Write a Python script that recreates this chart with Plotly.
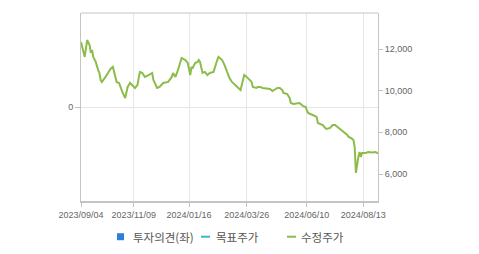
import plotly.graph_objects as go

# Adjusted share price (수정주가), Korean trading days
dates = [
    "2023-09-04", "2023-09-07", "2023-09-11", "2023-09-13", "2023-09-14", "2023-09-15",
    "2023-09-18", "2023-09-20", "2023-09-22", "2023-09-25", "2023-09-26", "2023-09-27", "2023-10-06",
    "2023-10-11", "2023-10-13", "2023-10-17", "2023-10-18", "2023-10-19", "2023-10-20", "2023-10-24",
    "2023-10-26", "2023-10-27", "2023-10-31", "2023-11-01", "2023-11-02", "2023-11-06", "2023-11-08",
    "2023-11-10", "2023-11-14", "2023-11-15", "2023-11-16", "2023-11-20", "2023-11-22", "2023-11-27",
    "2023-11-30", "2023-12-01", "2023-12-06", "2023-12-08", "2023-12-13", "2023-12-19", "2023-12-22",
    "2023-12-26", "2023-12-28", "2024-01-03", "2024-01-05", "2024-01-08", "2024-01-11", "2024-01-15",
    "2024-01-17", "2024-01-18", "2024-01-19", "2024-01-23", "2024-01-25", "2024-01-26", "2024-01-29",
    "2024-01-31", "2024-02-02", "2024-02-06", "2024-02-08", "2024-02-15", "2024-02-20", "2024-02-21",
    "2024-02-26", "2024-02-28", "2024-03-04", "2024-03-06", "2024-03-08", "2024-03-13", "2024-03-15",
    "2024-03-19", "2024-03-21", "2024-03-22", "2024-03-26", "2024-03-29", "2024-04-01", "2024-04-02",
    "2024-04-05", "2024-04-08", "2024-04-11", "2024-04-15", "2024-04-19", "2024-04-23", "2024-04-25",
    "2024-05-02", "2024-05-07", "2024-05-09", "2024-05-10", "2024-05-16", "2024-05-20", "2024-05-21",
    "2024-05-23", "2024-05-28", "2024-05-30", "2024-06-04", "2024-06-07", "2024-06-10", "2024-06-11",
    "2024-06-13", "2024-06-17", "2024-06-20", "2024-06-21", "2024-06-25", "2024-06-27", "2024-07-01",
    "2024-07-02", "2024-07-05", "2024-07-09", "2024-07-11", "2024-07-15", "2024-07-18", "2024-07-22",
    "2024-07-23", "2024-07-25", "2024-07-26", "2024-07-30", "2024-08-01", "2024-08-02", "2024-08-05",
    "2024-08-06", "2024-08-07", "2024-08-08", "2024-08-09", "2024-08-12", "2024-08-13", "2024-08-16",
    "2024-08-20", "2024-08-23", "2024-08-28", "2024-08-30",
]
prices = [
    12340, 11620, 12430, 12190, 11810, 11950,
    11620, 11380, 10990, 10850, 10510, 10420, 10660,
    10850, 11040, 11140, 10900, 10660, 10420, 10370,
    10030, 9890, 9650, 9890, 10180, 10370, 10270,
    10130, 10270, 10660, 10900, 10850, 10660, 10750,
    10850, 10510, 10130, 10180, 10370, 10420, 10660,
    10850, 10660, 10990, 11330, 11570, 11470, 11330,
    10750, 11140, 11090, 11330, 11380, 11470, 11380,
    10850, 10900, 10750, 10850, 10900, 11470, 11620,
    11470, 11230, 10900, 10610, 10420, 10270, 10130,
    10030, 10510, 10750, 10660, 10510, 10420, 10180,
    10130, 10180, 10180, 10130, 10080, 10080, 9980,
    10130, 10130, 10030, 9890, 9840, 9650, 9410,
    9360, 9410, 9410, 9260, 9220, 9070, 8930,
    8880, 8830, 8740, 8450, 8380, 8350, 8210,
    8160, 8210, 8350, 8350, 8260, 8110, 8020,
    7970, 7870, 7780, 7730, 7630, 7300, 6050,
    6530, 6820, 7060, 6820, 7010, 7000, 7010,
    7050, 7030, 7050, 6990,
]

# KRX holidays in the period (non-trading days)
holidays = [
    "2023-09-28", "2023-09-29", "2023-10-02", "2023-10-03", "2023-10-09", "2023-12-25",
    "2023-12-29", "2024-01-01", "2024-02-09", "2024-02-12", "2024-03-01", "2024-04-10",
    "2024-05-01", "2024-05-06", "2024-05-15", "2024-06-06", "2024-08-15",
]

tick_dates = ["2023-09-04", "2023-11-09", "2024-01-16", "2024-03-26", "2024-06-10", "2024-08-13"]
tick_labels = ["2023/09/04", "2023/11/09", "2024/01/16", "2024/03/26", "2024/06/10", "2024/08/13"]

right_ticks = [6000, 8000, 10000, 12000]
right_labels = ["6,000", "8,000", "10,000", "12,000"]

legend_names = ["투자의견(좌)", "목표주가", "수정주가"]
legend_colors = ["#2f7fd8", "#3bb7c6", "#8cbc4a"]

GRID = "#e6e6e6"
AXIS = "#c4c4c4"
TXT = "#666666"
FONT = "Liberation Sans, Arial, sans-serif"

fig = go.Figure()
# empty opinion series on the left axis (keeps the left axis active)
fig.add_trace(go.Scatter(x=[dates[0]], y=[None], yaxis="y", mode="lines",
                         showlegend=False, hoverinfo="skip"))
fig.add_trace(go.Scatter(
    x=dates, y=prices, mode="lines", yaxis="y2",
    line=dict(color=legend_colors[2], width=2), showlegend=False,
    hoverinfo="skip",
))

fig.update_layout(
    width=479, height=254,
    margin=dict(l=81, r=101, t=13, b=53),
    paper_bgcolor="white", plot_bgcolor="white",
    showlegend=False,
    font=dict(family=FONT, size=9, color=TXT),
    xaxis=dict(
        type="date",
        range=[dates[0], dates[-1]],
        rangebreaks=[dict(bounds=["sat", "mon"]), dict(values=holidays)],
        tickmode="array", tickvals=tick_dates, ticktext=tick_labels,
        showgrid=True, gridcolor=GRID, gridwidth=1,
        showline=True, linecolor=AXIS, linewidth=2, mirror=False,
        ticks="outside", ticklen=4, tickcolor=AXIS,
        tickfont=dict(size=9, color=TXT, family=FONT),
        zeroline=False, fixedrange=True,
    ),
    yaxis=dict(
        range=[-1, 1], tickmode="array", tickvals=[0], ticktext=["0"],
        showgrid=True, gridcolor=GRID, zeroline=False,
        showline=True, linecolor=AXIS, linewidth=1,
        ticks="outside", ticklen=5, tickcolor=AXIS,
        tickfont=dict(size=9, color=TXT, family=FONT),
    ),
    yaxis2=dict(
        overlaying="y", side="right", range=[4704, 13728],
        tickmode="array", tickvals=right_ticks, ticktext=right_labels,
        showgrid=False, zeroline=False,
        showline=True, linecolor=AXIS, linewidth=1,
        ticks="outside", ticklen=4, tickcolor=AXIS,
        tickfont=dict(size=9, color=TXT, family=FONT),
    ),
)

# top border of plot frame
fig.add_shape(type="line", xref="paper", yref="paper", x0=0, x1=1, y0=1, y1=1,
              line=dict(color=AXIS, width=1))

# manual legend
LY = -0.19
fig.add_shape(type="rect", xref="paper", yref="paper",
              x0=(117 - 81) / 297, x1=(124 - 81) / 297,
              y0=LY - 3.5 / 188, y1=LY + 3.5 / 188,
              fillcolor=legend_colors[0], line=dict(width=0))
fig.add_shape(type="line", xref="paper", yref="paper",
              x0=(201 - 81) / 297, x1=(210 - 81) / 297, y0=LY, y1=LY,
              line=dict(color=legend_colors[1], width=2))
fig.add_shape(type="line", xref="paper", yref="paper",
              x0=(287 - 81) / 297, x1=(296 - 81) / 297, y0=LY, y1=LY,
              line=dict(color=legend_colors[2], width=2))
for name, xpx in zip(legend_names, [131, 214, 299]):
    fig.add_annotation(text=name, xref="paper", yref="paper",
                       x=(xpx - 81) / 297, y=LY, xanchor="left", yanchor="middle",
                       showarrow=False,
                       font=dict(family="Noto Sans CJK KR", size=11.5, color="#555555"))

fig.write_html("out.html", config={"displayModeBar": False})
